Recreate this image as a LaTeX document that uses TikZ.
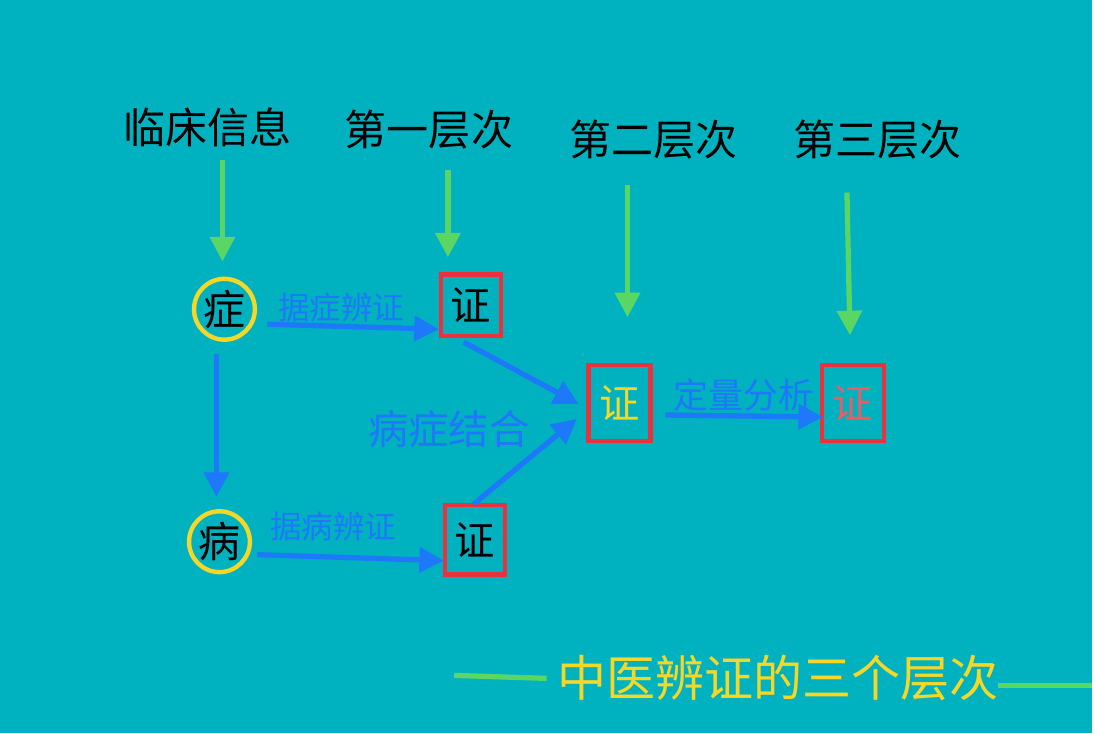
\documentclass[tikz,border=0pt]{standalone}
\usepackage{fontspec}
\setmainfont{Noto Sans CJK SC}
\usetikzlibrary{arrows.meta,positioning}
\definecolor{bgteal}{RGB}{0,178,192}
\definecolor{arrgreen}{RGB}{90,214,100}
\definecolor{arrblue}{RGB}{30,120,250}
\definecolor{ringyellow}{RGB}{245,215,40}
\definecolor{boxred}{RGB}{235,50,60}
\begin{document}
\begin{tikzpicture}[x=0.02cm,y=-0.02cm]

\tikzset{head/.style={font=\fontsize{24}{24}\selectfont,text=black},
gline/.style={draw=arrgreen,line width=3pt,-{Triangle[length=14pt,width=14pt]}},
bline/.style={draw=arrblue,line width=3pt,-{Triangle[length=14pt,width=14pt]}},
ringnode/.style={shape=circle,draw=ringyellow,line width=2.5pt,minimum size=1.22cm,inner sep=0pt,font=\fontsize{24}{24}\selectfont},
zhengbox/.style={draw=boxred,line width=2.5pt,inner sep=0pt,font=\fontsize{23}{23}\selectfont},
blab/.style={text=arrblue,font=\fontsize{18}{18}\selectfont}}

\fill[bgteal] (0,0) rectangle (1095,735);

% Headers
\node[head] (hinfo) at (208,128) {临床信息};
\node[head] (hfirst) at (430,130) {第一层次};
\node[head] (hsecond) at (655,140) {第二层次};
\node[head] (hthird) at (880,140) {第三层次};

% Nodes
\node[ringnode] (zheng) at (225,310) {症};
\node[ringnode] (bing) at (220,543) {病};
\node[zhengbox,minimum width=1.2cm,minimum height=1.24cm] (z1) at (472,306) {证};
\node[zhengbox,minimum width=1.2cm,minimum height=1.4cm] (z2) at (476,541) {证};
\node[zhengbox,minimum width=1.24cm,minimum height=1.52cm,text=ringyellow] (zmid) at (621,404) {证};
\node[zhengbox,minimum width=1.24cm,minimum height=1.52cm,text=boxred!80!white] (zend) at (855,404) {证};

% Green arrows
\coordinate (g1) at (223,160); \coordinate (g2) at (449,170);
\coordinate (g3) at (629,185); \coordinate (g4) at (849,193);
\draw[gline] (g1) -- (223,262);
\draw[gline] (g2) -- (449,258);
\draw[gline] (g3) -- (629,318);
\draw[gline] (g4) -- (852,336);

% Blue arrows
\coordinate (a1s) at (268,325); \coordinate (a1e) at (440,330);
\coordinate (a2s) at (217,355); \coordinate (a2e) at (217,498);
\coordinate (a3s) at (258,556); \coordinate (a3e) at (445,562);
\coordinate (a4s) at (465,343); \coordinate (a4e) at (580,405);
\coordinate (a5s) at (475,505); \coordinate (a5e) at (578,420);
\coordinate (a6s) at (667,416); \coordinate (a6e) at (825,418);
\draw[bline] (a1s) -- (a1e);
\draw[bline] (a2s) -- (a2e);
\draw[bline] (a3s) -- (a3e);
\draw[bline] (a4s) -- (a4e);
\draw[bline] (a5s) -- (a5e);
\draw[bline] (a6s) -- (a6e);

% Labels
\node[blab] (l1) at (342,308) {据症辨证};
\node[blab] (l2) at (334,528) {据病辨证};
\node[blab,font=\fontsize{23}{23}\selectfont] (l3) at (450,430) {病症结合};
\node[blab,font=\fontsize{20}{20}\selectfont] (l4) at (745,396) {定量分析};

% Title
\node[text=ringyellow,font=\fontsize{28}{28}\selectfont] (title) at (780,680) {中医辨证的三个层次};
\coordinate (t1) at (455,677); \coordinate (t2) at (1095,687);
\draw[arrgreen,line width=3pt] (t1) -- (548,680);
\draw[arrgreen,line width=3pt] (1000,687) -- (t2);
\end{tikzpicture}
\end{document}
